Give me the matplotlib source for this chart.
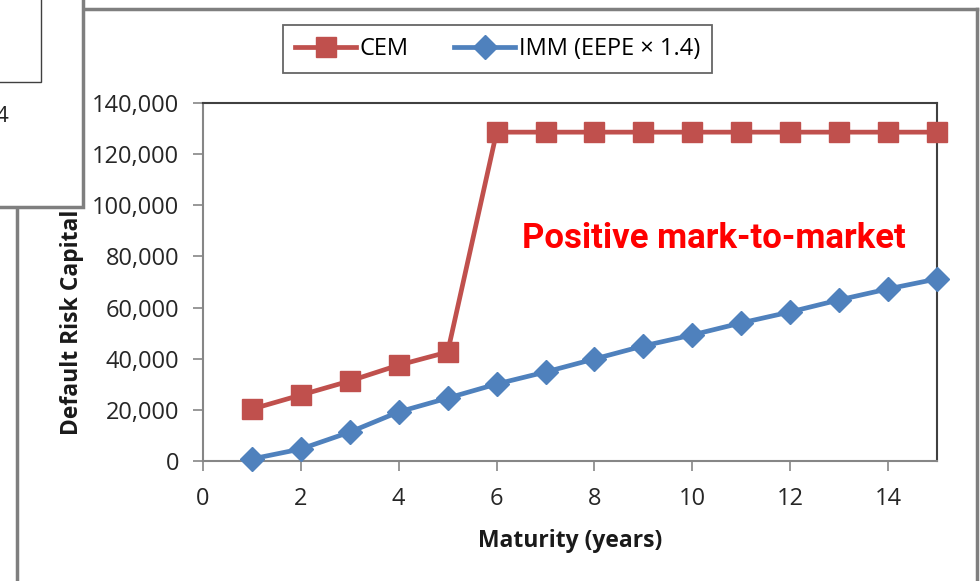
import matplotlib.pyplot as plt
from matplotlib.patches import Rectangle
from matplotlib.lines import Line2D
from matplotlib.ticker import FuncFormatter

# default risk capital by maturity
maturity = [1, 2, 3, 4, 5, 6, 7, 8, 9, 10, 11, 12, 13, 14, 15]
cem = [20300, 25800, 31300, 37500, 42600,
       128600, 128600, 128600, 128600, 128600,
       128600, 128600, 128600, 128600, 128600]
imm = [800, 4700, 11300, 19200, 24600, 30100, 34800, 39900,
       45000, 49300, 54000, 58300, 63000, 67300, 71200]

x_ticks = [0, 2, 4, 6, 8, 10, 12, 14]
y_ticks = [0, 20000, 40000, 60000, 80000, 100000, 120000, 140000]

red = '#c0504d'
blue = '#4f81bd'
grey = '#868686'
font = ['Open Sans', 'DejaVu Sans']

fig = plt.figure(figsize=(9.8, 5.81), dpi=100)
fig.patch.set_facecolor('white')

W, H = 980.0, 581.0
def fx(px):
  return px / W
def fy(py):
  return 1 - py / H

# window frame around the chart
fig.add_artist(Line2D([fx(17), fx(17)], [fy(207), fy(581)], color='#7f7f7f', lw=2.5))
fig.add_artist(Line2D([fx(84), fx(977)], [fy(9), fy(9)], color='#7f7f7f', lw=2.5))
fig.add_artist(Line2D([fx(977), fx(977)], [fy(9), fy(581)], color='#7f7f7f', lw=2.5))

# the small box laid over the corner
fig.add_artist(Rectangle((fx(-5), fy(207)), fx(88), fy(0) - fy(207) + 0.02,
                         facecolor='white', edgecolor='#7f7f7f', lw=2.5, zorder=5))
fig.add_artist(Rectangle((fx(-5), fy(82)), fx(46), fy(0) - fy(82) + 0.02,
                         facecolor='white', edgecolor='#404040', lw=1.0, zorder=6))
fig.text(fx(-5), fy(117), '4', fontsize=16, color='#222222', family=font,
         va='center', ha='left', zorder=7)

ax = fig.add_axes([fx(203), fy(461), fx(937) - fx(203), fy(103) - fy(461)])
ax.plot(maturity, cem, color=red, lw=3.4, marker='s', ms=14.5, mec=red, mfc=red,
        label='CEM', clip_on=False, zorder=3)
ax.plot(maturity, imm, color=blue, lw=3.4, marker='D', ms=12, mec=blue, mfc=blue,
        label='IMM (EEPE × 1.4)', clip_on=False, zorder=3)

ax.set_xlim(0, 15)
ax.set_ylim(0, 140000)
ax.set_xticks(x_ticks)
ax.set_yticks(y_ticks)
ax.yaxis.set_major_formatter(FuncFormatter(lambda v, p: '{:,.0f}'.format(v)))

for s in ['left', 'bottom']:
  ax.spines[s].set_color(grey)
  ax.spines[s].set_linewidth(1.5)
for s in ['top', 'right']:
  ax.spines[s].set_color('#404040')
  ax.spines[s].set_linewidth(1.5)

ax.tick_params(axis='both', direction='out', length=7, width=1.2, color=grey,
               labelsize=17, labelcolor='#262626')
ax.tick_params(axis='x', pad=12)
ax.tick_params(axis='y', pad=10)
for lab in ax.get_xticklabels() + ax.get_yticklabels():
  lab.set_family(font)

ax.set_xlabel('Maturity (years)', fontsize=16.5, fontweight='bold', family=font,
              color='#1a1a1a')
ax.xaxis.set_label_coords((570 - 203) / 734.0, (461 - 529) / 358.0)
ax.set_ylabel('Default Risk Capital', fontsize=16.5, fontweight='bold', family=font,
              color='#1a1a1a')
ax.yaxis.set_label_coords((84 - 203) / 734.0, (461 - 322) / 358.0)

ax.text((714 - 203) / 734.0, (461 - 238) / 358.0, 'Positive mark-to-market',
        transform=ax.transAxes, fontsize=25, fontweight='bold', color='#ff0000',
        ha='center', va='center',
        family=['Liberation Sans Narrow', 'Roboto', 'DejaVu Sans'],
        fontstretch='condensed')

leg = fig.legend(loc='center', bbox_to_anchor=(fx(497.5), fy(49)), ncol=2,
                 frameon=True, fancybox=False, edgecolor='#404040',
                 prop={'family': font, 'size': 17}, handlelength=2.6,
                 columnspacing=1.9, borderpad=0.5, handletextpad=0.15)
leg.get_frame().set_linewidth(1.3)

fig.savefig('out.png', dpi=100, facecolor='white')
